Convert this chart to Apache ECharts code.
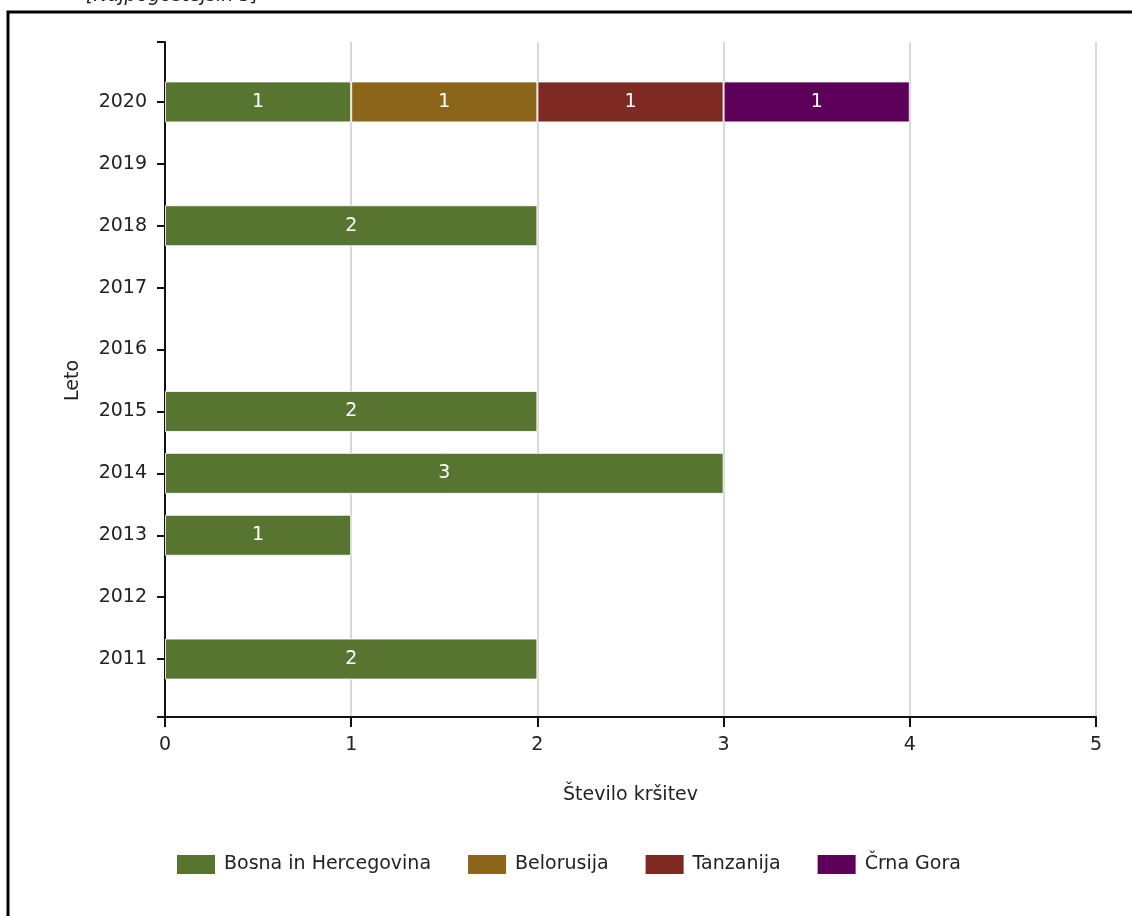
<!DOCTYPE html>
<html>
<head>
<meta charset="utf-8">
<script src="https://cdn.jsdelivr.net/npm/echarts@6/dist/echarts.min.js"></script>
<style>html,body{margin:0;padding:0;background:#fff}#c{width:1132px;height:916px}</style>
</head>
<body>
<div id="c"></div>
<script>
const years = ['2011','2012','2013','2014','2015','2016','2017','2018','2019','2020'];
const seriesNames = ['Bosna in Hercegovina','Belorusija','Tanzanija','Črna Gora'];
const bosna =     [2, null, 1, 3, 2, null, null, 2, null, 1];
const belorusija = [null, null, null, null, null, null, null, null, null, 1];
const tanzanija =  [null, null, null, null, null, null, null, null, null, 1];
const crnaGora =   [null, null, null, null, null, null, null, null, null, 1];
const xTicks = [0, 1, 2, 3, 4, 5];
const colors = ['#577530', '#8B6519', '#7E2A22', '#5C0059'];
const titleText = '[Najpogostejših 5]';
const xName = 'Število kršitev';
const yName = 'Leto';

const FONT = 'DejaVu Sans';
const FS = 19;
const chart = echarts.init(document.getElementById('c'), null, {renderer: 'canvas'});
const values = [bosna, belorusija, tanzanija, crnaGora];

const option = {
  animation: false,
  backgroundColor: '#fff',
  textStyle: {fontFamily: FONT},
  graphic: [
    {type: 'rect', shape: {x: 8, y: 12, width: 1200, height: 1000}, style: {fill: 'none', stroke: '#000', lineWidth: 3}, z: 100},
    {type: 'text', x: 86, y: 6, style: {text: titleText, font: 'italic 19px ' + FONT, fill: '#222', verticalAlign: 'bottom'}}
  ],
  legend: {
    bottom: 37, left: 172,
    itemWidth: 38, itemHeight: 19, itemGap: 37,
    icon: 'rect',
    data: seriesNames,
    itemStyle: {borderWidth: 0},
    textStyle: {fontFamily: FONT, fontSize: FS, color: '#222', padding: [0, 0, 0, 4]}
  },
  grid: [
    {left: 165, right: 36, top: 42, bottom: 199},
    {left: 165, right: 36, top: 71, bottom: 226}
  ],
  xAxis: [
    {
      gridIndex: 0, type: 'value', min: xTicks[0], max: xTicks[xTicks.length - 1], interval: 1,
      axisLine: {show: true, lineStyle: {color: '#111', width: 2}},
      axisTick: {show: true, length: 10, lineStyle: {color: '#111', width: 2}},
      axisLabel: {fontFamily: FONT, fontSize: FS, color: '#222', margin: 19},
      splitLine: {show: true, lineStyle: {color: '#d9d9d9', width: 2}},
      name: xName, nameLocation: 'middle', nameGap: 69,
      nameTextStyle: {fontFamily: FONT, fontSize: FS, color: '#222'}
    },
    {
      gridIndex: 1, type: 'value', min: xTicks[0], max: xTicks[xTicks.length - 1], interval: 1,
      show: false
    }
  ],
  yAxis: [
    {
      gridIndex: 0, type: 'value', min: 0, max: 1, interval: 1,
      axisLine: {show: true, lineStyle: {color: '#111', width: 2}},
      axisTick: {show: true, length: 8, lineStyle: {color: '#111', width: 2}},
      axisLabel: {show: false},
      splitLine: {show: false}
    },
    {
      gridIndex: 1, type: 'category', data: years,
      axisLine: {show: false},
      axisTick: {show: true, alignWithLabel: true, length: 8, lineStyle: {color: '#111', width: 2}},
      axisLabel: {fontFamily: FONT, fontSize: FS, color: '#222', margin: 18},
      splitLine: {show: false},
      name: yName, nameLocation: 'middle', nameGap: 82, nameRotate: 90,
      nameTextStyle: {fontFamily: FONT, fontSize: FS, color: '#222'}
    }
  ],
  series: seriesNames.map((n, i) => ({
    name: n, type: 'bar', stack: 'total',
    xAxisIndex: 1, yAxisIndex: 1,
    barWidth: 41,
    data: values[i],
    itemStyle: {color: colors[i], borderColor: 'rgba(255,255,255,0.85)', borderWidth: 1},
    label: {show: true, position: 'inside', color: '#fff', fontFamily: FONT, fontSize: FS},
    z: 3
  }))
};
chart.setOption(option);
</script>
</body>
</html>
